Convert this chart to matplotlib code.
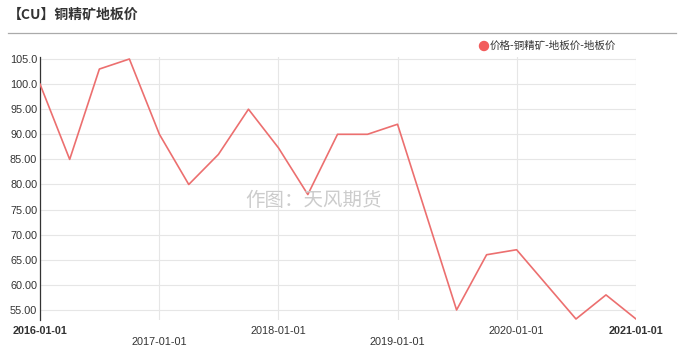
import matplotlib
matplotlib.use("Agg")
import matplotlib.pyplot as plt
import matplotlib.dates as mdates
import numpy as np
from datetime import datetime

plt.rcParams['font.family'] = ['Liberation Sans', 'Noto Sans CJK SC', 'DejaVu Sans']

# 季度数据（部分季度缺失，线段直接相连）
dates = ["2016-01-01", "2016-04-01", "2016-07-01", "2016-10-01",
         "2017-01-01", "2017-04-01", "2017-07-01", "2017-10-01",
         "2018-01-01", "2018-04-01", "2018-07-01", "2018-10-01",
         "2019-01-01", "2019-07-01", "2019-10-01",
         "2020-01-01", "2020-07-01", "2020-10-01", "2021-01-01"]
prices = [100, 85, 103, 105,
          90, 80, 86, 95,
          87.3, 78, 90, 90,
          92, 55, 66,
          67, 53.2, 58, 53.2]
y_ticks = [55, 60, 65, 70, 75, 80, 85, 90, 95, 100, 105]
y_labels = ["55.00", "60.00", "65.00", "70.00", "75.00", "80.00",
            "85.00", "90.00", "95.00", "100.0", "105.0"]
x_ticks = ["2016-01-01", "2017-01-01", "2018-01-01", "2019-01-01",
           "2020-01-01", "2021-01-01"]

x = [datetime.strptime(d, "%Y-%m-%d") for d in dates]
xt = [datetime.strptime(d, "%Y-%m-%d") for d in x_ticks]

fig = plt.figure(figsize=(6.82, 3.6), dpi=100)
ax = fig.add_axes([40 / 682, 1 - 320 / 360, 596 / 682, 263 / 360])

ax.plot(x, prices, color="#ec6f6f", lw=1.2, zorder=3)

ax.set_xlim(xt[0], xt[-1])
ax.set_ylim(53.0, 105.4)
ax.set_yticks(y_ticks)
ax.set_yticklabels(y_labels)
ax.set_xticks(xt)
labels = []
for i, t in enumerate(x_ticks):
    labels.append("\n" + t if i in (1, 3) else t)
ax.set_xticklabels(labels)
for i, lab in enumerate(ax.get_xticklabels()):
    if i in (0, len(x_ticks) - 1):
        lab.set_fontweight("bold")
        lab.set_color("#111111")
    else:
        lab.set_color("#333333")

ax.tick_params(axis="both", length=0, labelsize=7.8, colors="#333333")
ax.tick_params(axis="x", pad=4)
ax.tick_params(axis="y", pad=2)
ax.grid(True, color="#e6e6e6", lw=0.8)
ax.set_axisbelow(True)
for s in ["top", "right", "bottom"]:
    ax.spines[s].set_visible(False)
ax.spines["left"].set_color("#333333")
ax.spines["left"].set_linewidth(0.9)

# 标题和分隔线
fig.text(8 / 682, 1 - 15 / 360, "【CU】铜精矿地板价", fontsize=10, fontweight="bold",
         color="#333333", va="center", ha="left",
         family=['Noto Sans CJK SC', 'DejaVu Sans'])
fig.add_artist(plt.Line2D([8 / 682, 676 / 682], [1 - 33 / 360, 1 - 33 / 360],
                          color="#aaaaaa", lw=0.9))

# 图例
fig.add_artist(matplotlib.patches.Ellipse((484 / 682, 1 - 46 / 360), 9 / 682, 9 / 360,
                                          color="#f25c5c"))
fig.text(490 / 682, 1 - 46 / 360, "价格-铜精矿-地板价-地板价", fontsize=7.6,
         color="#333333", va="center", ha="left",
         family=['Noto Sans CJK SC', 'DejaVu Sans'])

# 水印
fig.text(314 / 682, 1 - 201 / 360, "作图：天风期货", fontsize=14, color="#cccccc",
         va="center", ha="center", family=['Noto Sans CJK SC', 'DejaVu Sans'])

fig.savefig("out.png", dpi=100)
